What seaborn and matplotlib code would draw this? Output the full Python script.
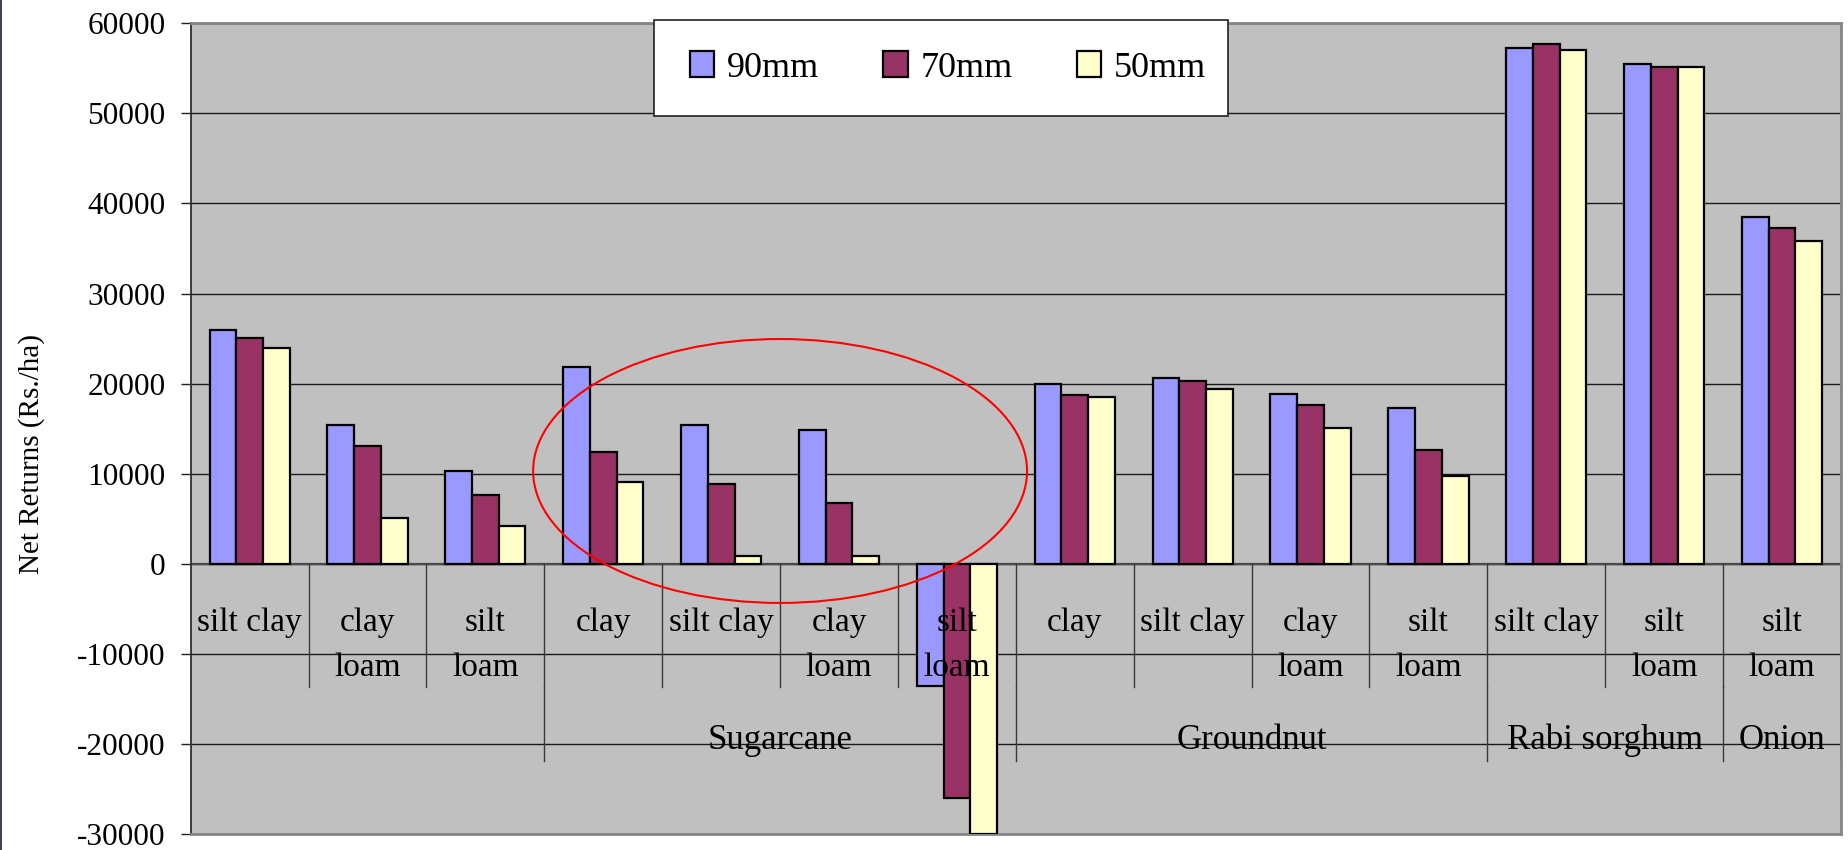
import matplotlib
matplotlib.use("Agg")
import matplotlib.pyplot as plt
from matplotlib.patches import Ellipse, Patch, Rectangle
from matplotlib.lines import Line2D
import seaborn as sns
import pandas as pd

# Soil types along the category axis, with the crop each belongs to
soils = ["silt clay", "clay\nloam", "silt\nloam",
         "clay", "silt clay", "clay\nloam", "silt\nloam",
         "clay", "silt clay", "clay\nloam", "silt\nloam",
         "silt clay", "silt\nloam", "silt\nloam"]
crops = ["", "", "",
         "Sugarcane", "Sugarcane", "Sugarcane", "Sugarcane",
         "Groundnut", "Groundnut", "Groundnut", "Groundnut",
         "Rabi sorghum", "Rabi sorghum", "Onion"]

# Net returns (Rs./ha) for each irrigation depth
returns_90mm = [26000, 15400, 10300, 21800, 15400, 14800, -13600,
                20000, 20600, 18800, 17300, 57300, 55500, 38500]
returns_70mm = [25100, 13100, 7600, 12400, 8800, 6700, -26000,
                18700, 20300, 17600, 12600, 57700, 55150, 37300]
returns_50mm = [23900, 5100, 4200, 9100, 900, 900, -30000,
                18500, 19400, 15100, 9700, 57000, 55150, 35800]

series_names = ["90mm", "70mm", "50mm"]
series_colors = ["#9999FF", "#993366", "#FFFFCC"]
y_ticks = [-30000, -20000, -10000, 0, 10000, 20000, 30000, 40000, 50000, 60000]

rows = []
for name, vals in zip(series_names, [returns_90mm, returns_70mm, returns_50mm]):
    for slot, v in enumerate(vals):
        rows.append({"slot": slot, "depth": name, "net": v})
df = pd.DataFrame(rows)

plt.rcParams["axes.unicode_minus"] = False
plt.rcParams["font.family"] = ["Liberation Serif", "DejaVu Serif"]

W, H = 1849, 850
fig = plt.figure(figsize=(W / 100, H / 100), dpi=100)
fig.patch.set_facecolor("white")


def fx(px):
    return px / W


def fy(py):
    return 1 - py / H


ax = fig.add_axes([fx(190.7), fy(834), fx(1841) - fx(190.7), fy(23.3) - fy(834)])
ax.set_facecolor("#C0C0C0")

sns.barplot(data=df, x="slot", y="net", hue="depth", hue_order=series_names,
            palette=series_colors, width=0.68, edgecolor="black", linewidth=1.6,
            saturation=1, legend=False, ax=ax, zorder=3)

ax.set_xlim(-0.5, len(soils) - 0.5)
ax.set_ylim(-30000, 60000)
ax.set_yticks(y_ticks)
ax.set_yticklabels([str(t) for t in y_ticks])
ax.set_xticks([])
ax.set_xlabel("")
ax.set_ylabel("")
ax.tick_params(axis="y", direction="out", length=7, width=1, color="#202020",
               pad=11, labelsize=22.5, labelcolor="black")

# horizontal gridlines and category axis line
ax.yaxis.grid(True, color="#1a1a1a", linewidth=1.0, zorder=0)
ax.set_axisbelow(True)
ax.axhline(0, color="#4a4a4a", linewidth=1.6, zorder=2)

for side in ["top", "right", "bottom"]:
    ax.spines[side].set_color("#858585")
    ax.spines[side].set_linewidth(2.0)
ax.spines["left"].set_color("#303030")
ax.spines["left"].set_linewidth(1.3)

# multi-level category labels
n = len(soils)
y_line1 = -7411
y_line2 = -12411
for i, lab in enumerate(soils):
    parts = lab.split("\n")
    for j, part in enumerate(parts):
        ax.text(i, y_line1 if j == 0 else y_line2, part, ha="center", va="baseline",
                fontsize=24, color="black", zorder=5)

# crop labels centred under their soil groups
crop_order = []
for c in crops:
    if c not in crop_order:
        crop_order.append(c)
for c in crop_order:
    idx = [i for i, v in enumerate(crops) if v == c]
    if c:
        ax.text((idx[0] + idx[-1]) / 2, -20556, c, ha="center", va="baseline",
                fontsize=25, color="black", zorder=5)

# separators between categories and between crops
sep_kw = dict(color="#3a3a3a", linewidth=1.0, zorder=2)
for i in range(1, n):
    ax.plot([i - 0.5, i - 0.5], [0, -13711], **sep_kw)
for i in range(1, n):
    if crops[i] != crops[i - 1]:
        ax.plot([i - 0.5, i - 0.5], [-13711, -21856], **sep_kw)
ax.plot([n - 0.5, n - 0.5], [0, -21856], color="#303030", linewidth=1.2, zorder=2)

# highlighted sugarcane group
ax.add_patch(Ellipse((4.5, 10300), width=4.19, height=29300, fill=False,
                     edgecolor="red", linewidth=1.5, zorder=6, clip_on=False))

# y-axis title
fig.text(fx(32), fy(454), "Net Returns (Rs./ha)", rotation=90, ha="center",
         va="center", fontsize=21, color="black")

# legend with a plain white box
fig.add_artist(Rectangle((fx(654), fy(115.7)), fx(1228) - fx(654), fy(20) - fy(115.7),
                         transform=fig.transFigure, facecolor="white",
                         edgecolor="#202020", linewidth=1.2, zorder=10))
handles = [Patch(facecolor=c, edgecolor="black", linewidth=1.6) for c in series_colors]
leg = fig.legend(handles, series_names, loc="center left",
                 bbox_to_anchor=(fx(690), fy(68)), bbox_transform=fig.transFigure,
                 ncol=3, frameon=False, fontsize=26, borderpad=0, borderaxespad=0,
                 handlelength=0.67, handleheight=0.72, handletextpad=0.35,
                 columnspacing=1.78)
leg.set_zorder(11)

# dark rule along the left edge of the figure
fig.add_artist(Line2D([fx(0.7), fx(0.7)], [0, 1], transform=fig.transFigure,
                      color="#141a3c", linewidth=1.2))

fig.savefig("out.png", dpi=100, facecolor="white")
